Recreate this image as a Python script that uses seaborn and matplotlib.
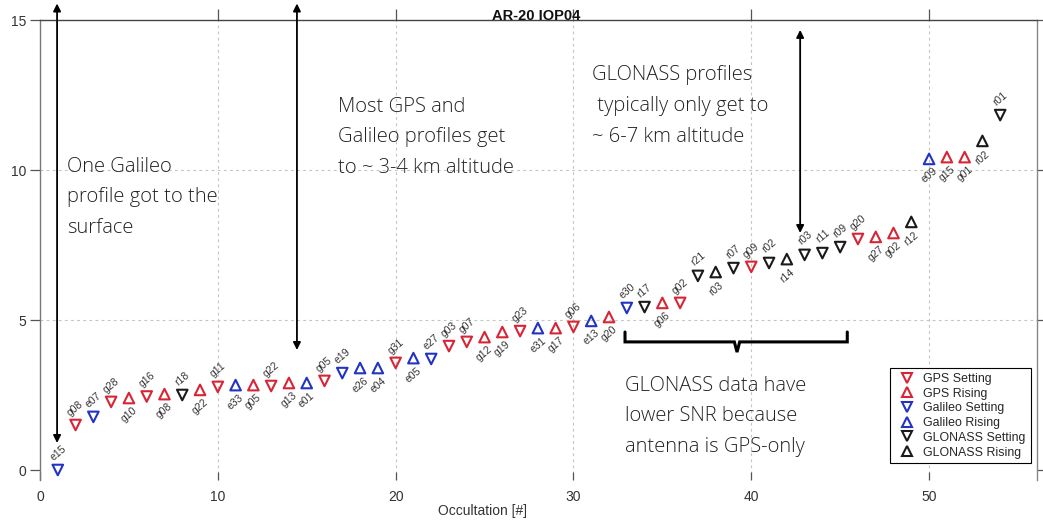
import numpy as np
import pandas as pd
import matplotlib
matplotlib.use("Agg")
import matplotlib.pyplot as plt
import seaborn as sns
from matplotlib.lines import Line2D

# ---------------- data ----------------
occultation = list(range(1, 55))
altitude = [0.0, 1.5, 1.77, 2.27, 2.4, 2.45, 2.53, 2.5, 2.67, 2.77,
            2.83, 2.83, 2.8, 2.9, 2.9, 2.97, 3.23, 3.4, 3.4, 3.57,
            3.73, 3.7, 4.13, 4.27, 4.43, 4.6, 4.63, 4.73, 4.73, 4.77,
            4.97, 5.1, 5.4, 5.43, 5.57, 5.57, 6.47, 6.6, 6.73, 6.77,
            6.9, 7.03, 7.17, 7.23, 7.43, 7.7, 7.77, 7.9, 8.27, 10.37,
            10.43, 10.43, 10.97, 11.83]
system = ["Galileo", "GPS", "Galileo", "GPS", "GPS", "GPS", "GPS", "GLONASS", "GPS", "GPS",
          "Galileo", "GPS", "GPS", "GPS", "Galileo", "GPS", "Galileo", "Galileo", "Galileo", "GPS",
          "Galileo", "Galileo", "GPS", "GPS", "GPS", "GPS", "GPS", "Galileo", "GPS", "GPS",
          "Galileo", "GPS", "Galileo", "GLONASS", "GPS", "GPS", "GLONASS", "GLONASS", "GLONASS", "GPS",
          "GLONASS", "GLONASS", "GLONASS", "GLONASS", "GLONASS", "GPS", "GPS", "GPS", "GLONASS", "Galileo",
          "GPS", "GPS", "GLONASS", "GLONASS"]
direction = ["Setting", "Setting", "Setting", "Setting", "Rising", "Setting", "Rising", "Setting", "Rising", "Setting",
             "Rising", "Rising", "Setting", "Rising", "Rising", "Setting", "Setting", "Rising", "Rising", "Setting",
             "Rising", "Setting", "Setting", "Setting", "Rising", "Rising", "Setting", "Rising", "Rising", "Setting",
             "Rising", "Rising", "Setting", "Setting", "Rising", "Setting", "Setting", "Rising", "Setting", "Setting",
             "Setting", "Rising", "Setting", "Setting", "Setting", "Setting", "Rising", "Rising", "Rising", "Rising",
             "Rising", "Rising", "Rising", "Setting"]
prn_labels = ["e15", "g08", "e07", "g28", "g10", "g16", "g08", "r18", "g22", "g11",
              "e33", "g05", "g22", "g13", "e01", "g05", "e19", "e26", "e04", "g31",
              "e05", "e27", "g03", "g07", "g12", "g19", "g23", "e31", "g17", "g06",
              "e13", "g20", "e30", "r17", "g06", "g02", "r21", "r03", "r07", "g09",
              "r02", "r14", "r03", "r11", "r09", "g20", "g27", "g02", "r12", "e09",
              "g15", "g01", "r02", "r01"]
label_side = ["a", "a", "a", "a", "b", "a", "b", "a", "b", "a",
              "b", "b", "a", "b", "b", "a", "a", "b", "b", "a",
              "b", "a", "a", "a", "b", "b", "a", "b", "b", "a",
              "b", "b", "a", "a", "b", "a", "a", "b", "a", "a",
              "a", "b", "a", "a", "a", "a", "b", "b", "b", "b",
              "b", "b", "b", "a"]

x_ticks = [0, 10, 20, 30, 40, 50]
y_ticks = [0, 5, 10, 15]
title_text = "AR-20 IOP04"
xlabel_text = "Occultation [#]"

notes = [
    ("One Galileo\nprofile got to the\nsurface", 1.5, 10.45),
    ("Most GPS and\nGalileo profiles get\nto ~ 3-4 km altitude", 16.75, 12.45),
    ("GLONASS profiles\n typically only get to\n~ 6-7 km altitude", 31.05, 13.5),
    ("GLONASS data have\nlower SNR because\nantenna is GPS-only", 32.9, 3.15),
]
arrows = [(0.96, 15.55, 0.9), (14.45, 15.55, 4.0), (42.75, 14.67, 7.9)]
bracket_x = [32.9, 32.9, 39.05, 39.2, 39.35, 45.4, 45.4]
bracket_y = [4.6, 4.27, 4.27, 3.93, 4.27, 4.27, 4.6]

# ---------------- styles ----------------
colors = {"GPS": "#d82535", "Galileo": "#2233c4", "GLONASS": "#1a1a1a"}
markers = {"Setting": "v", "Rising": "^"}
groups = [("GPS", "Setting"), ("GPS", "Rising"), ("Galileo", "Setting"),
          ("Galileo", "Rising"), ("GLONASS", "Setting"), ("GLONASS", "Rising")]

sns.set_style("white")
plt.rcParams["font.family"] = ["Liberation Sans", "DejaVu Sans"]

df = pd.DataFrame({"occ": occultation, "alt": altitude, "system": system,
                   "direction": direction, "label": prn_labels, "side": label_side})

W, H = 1043, 521
fig = plt.figure(figsize=(W / 100, H / 100), dpi=100)
L, R, T, B = 40, 1037, 20, 480
ax = fig.add_axes([L / W, (H - B) / H, (R - L) / W, (B - T) / H])

# grid
for xv in x_ticks[1:]:
    ax.axvline(xv, color="#c4c4c4", lw=0.8, ls=(0, (2.5, 3)), zorder=0)
for yv in [5, 10]:
    ax.axhline(yv, color="#c4c4c4", lw=0.8, ls=(0, (2.5, 3)), zorder=0)

for sname, dname in groups:
    sub = df[(df.system == sname) & (df.direction == dname)]
    sns.scatterplot(data=sub, x="occ", y="alt", marker=markers[dname], s=58,
                    ax=ax, zorder=3, legend=False)
    coll = ax.collections[-1]
    coll.set_facecolor("none")
    coll.set_edgecolor(colors[sname])
    coll.set_linewidth(1.5)

for _, row in df.iterrows():
    off = 12 if row.side == "a" else -12
    ax.annotate(row.label, (row.occ, row.alt), xytext=(0, off), textcoords="offset points",
                rotation=40, ha="center", va="center", fontsize=7.5, color="#333333",
                zorder=4)

for txt, xx, yy in notes:
    ax.text(xx, yy, txt, ha="left", va="top", fontsize=14.5, family=["Open Sans", "DejaVu Sans"],
            fontweight="light", color="#222222", linespacing=1.72, zorder=5)

for xx, ytop, ybot in arrows:
    ax.annotate("", xy=(xx, ybot), xytext=(xx, ytop),
                arrowprops=dict(arrowstyle="<|-|>", color="black", lw=1.3,
                                mutation_scale=11, shrinkA=0, shrinkB=0),
                annotation_clip=False, zorder=5)

ax.plot(bracket_x, bracket_y, color="black", lw=2.2, solid_joinstyle="miter", zorder=5)

ax.set_xlim(0, 56.07)
ax.set_ylim(-0.333, 15)
ax.set_xticks(x_ticks)
ax.set_yticks(y_ticks)
ax.set_xlabel("")
ax.set_ylabel("")
ax.tick_params(axis="x", direction="in", length=6, width=0.9, color="#555555",
               labelsize=10, labelcolor="#333333", pad=7)
ax.tick_params(axis="y", direction="out", length=7, width=0.9, color="#555555",
               left=True, right=True, labelsize=10, labelcolor="#333333", pad=3)
ax.xaxis.set_ticks_position("bottom")

sec = ax.secondary_xaxis("top")
sec.set_xticks(x_ticks[1:])
sec.tick_params(direction="out", length=8, width=0.9, color="#555555", labeltop=False)
sec.spines["top"].set_visible(False)

for side, col in [("left", "#777777"), ("top", "#444444"), ("right", "#888888")]:
    ax.spines[side].set_visible(True)
    ax.spines[side].set_color(col)
    ax.spines[side].set_linewidth(1.0)
ax.spines["bottom"].set_visible(False)

handles = [Line2D([], [], marker=markers[d], ls="none", markerfacecolor="none",
                  markeredgecolor=colors[s], markersize=7, markeredgewidth=1.5)
           for s, d in groups]
leg = ax.legend(handles, [f"{s} {d}" for s, d in groups], loc="upper left",
                bbox_to_anchor=((890 - L) / (R - L), (B - 368) / (B - T)),
                borderaxespad=0, fontsize=8.9, frameon=True, fancybox=False,
                edgecolor="black", framealpha=1, borderpad=0.4, labelspacing=0.22,
                handletextpad=0.3, handlelength=2.0)
leg.get_frame().set_linewidth(0.8)

fig.text(536 / W, 1 - 16 / H, title_text, ha="center", va="center",
         fontsize=10.5, fontweight="bold", color="#111111")
fig.text(482 / W, 1 - 511 / H, xlabel_text, ha="center", va="center",
         fontsize=10, color="#333333")

fig.savefig("out.png", dpi=100)
